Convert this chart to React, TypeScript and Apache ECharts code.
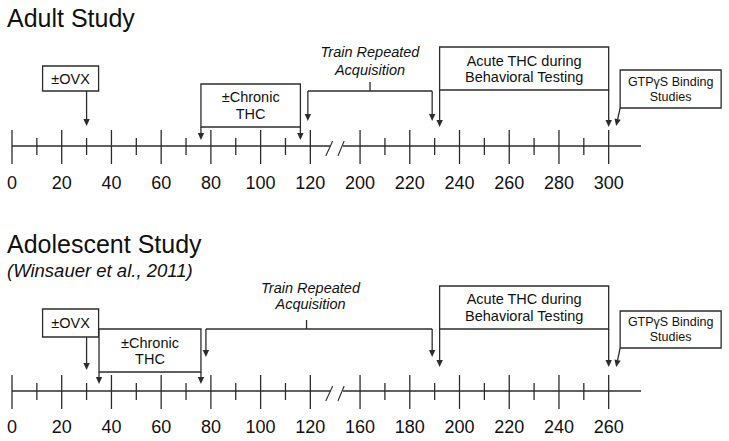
import { useEffect, useRef } from "react";
import * as echarts from "echarts";

// ---------- data ----------
const titles = ["Adult Study", "Adolescent Study"];
const subtitle = "(Winsauer et al., 2011)";

const adultTickDays = [0, 10, 20, 30, 40, 50, 60, 70, 80, 90, 100, 110, 120, 200, 210, 220, 230, 240, 250, 260, 270, 280, 290, 300];
const adultLabelDays = [0, 20, 40, 60, 80, 100, 120, 200, 220, 240, 260, 280, 300];
const adultBreakDays = [120, 200];

const adolescentTickDays = [0, 10, 20, 30, 40, 50, 60, 70, 80, 90, 100, 110, 120, 160, 170, 180, 190, 200, 210, 220, 230, 240, 250, 260];
const adolescentLabelDays = [0, 20, 40, 60, 80, 100, 120, 160, 180, 200, 220, 240, 260];
const adolescentBreakDays = [120, 160];

const eventLabels = ["±OVX", "±Chronic\nTHC", "Train Repeated\nAcquisition", "Acute THC during\nBehavioral Testing", "GTPγS Binding\nStudies"];
const eventKinds = ["ovx", "chronic", "train", "acute", "gtp"];
const adultEventStart = [30, 76, 119, 232, 303];
const adultEventEnd = [30, 116, 229, 300, 303];
const adolescentEventStart = [30, 35, 78, 192, 263];
const adolescentEventEnd = [30, 76, 189, 260, 263];

// ---------- style / layout ----------
const FONT = "'Liberation Sans', Arial, Helvetica, sans-serif";
const INK = "#111111";
const LINE = "#2c2c2c";
const LW = 1.3;
const GAP = 20; // display width of the axis break
const X_MAX = 253;

const adultLayout: any = {
  ovx: { top: 80, bottom: 55, left: -44, right: 12, tip: 20 },
  chronic: { top: 62, bottom: 19, tip: 6, lh: 17 },
  train: { bar: 55, tick: 64, textY: 85, lh: 18, tip: 25, textDx: 0, tickDx: 0 },
  acute: { top: 99, bottom: 56, tip: 19, lh: 16 },
  gtp: { top: 76, bottom: 38, gap: 4, width: 101, tip: 20, lh: 15 },
};
const adolescentLayout: any = {
  ovx: { top: 82, bottom: 54, left: -44, right: 12, tip: 21 },
  chronic: { top: 62, bottom: 19, tip: 7, lh: 16 },
  train: { bar: 62, tick: 71, textY: 95.5, lh: 16, tip: 34, textDx: -8.5, tickDx: -12.5 },
  acute: { top: 105, bottom: 62, tip: 24, lh: 17 },
  gtp: { top: 80, bottom: 43, gap: 4, width: 101, tip: 24, lh: 15 },
};

function toDisplay(day: number, brk: number[]) {
  return day <= brk[0] ? day : day - (brk[1] - brk[0]) + GAP;
}
function fromDisplay(v: number, brk: number[]) {
  return v <= brk[0] ? v : v + (brk[1] - brk[0]) - GAP;
}

function arrow(x1: number, y1: number, x2: number, y2: number) {
  const dx = x2 - x1, dy = y2 - y1;
  const len = Math.hypot(dx, dy) || 1;
  const ux = dx / len, uy = dy / len;
  const hl = 7, hw = 3.2;
  const bx = x2 - ux * hl, by = y2 - uy * hl;
  return [
    { type: "line", shape: { x1, y1, x2: bx, y2: by }, style: { stroke: LINE, lineWidth: LW } },
    {
      type: "polygon",
      shape: { points: [[x2, y2], [bx - uy * hw, by + ux * hw], [bx + uy * hw, by - ux * hw]] },
      style: { fill: LINE },
    },
  ];
}

function txt(text: string, x: number, y: number, size: number, lh: number, italic = false) {
  return {
    type: "text",
    style: {
      text, x, y,
      align: "center", verticalAlign: "middle",
      textAlign: "center", textVerticalAlign: "middle",
      fontSize: size, fontFamily: FONT, fontStyle: italic ? "italic" : "normal",
      lineHeight: lh, fill: INK,
    },
  };
}

function rect(x1: number, y1: number, x2: number, y2: number) {
  return {
    type: "rect",
    shape: { x: x1, y: y1, width: x2 - x1, height: y2 - y1 },
    style: { fill: "#ffffff", stroke: LINE, lineWidth: LW },
  };
}

function makeAnnotationRender(lay: any) {
  return (params: any, api: any) => {
    const i = params.dataIndex;
    const kind = eventKinds[i];
    const label = eventLabels[i];
    const xs = api.coord([api.value(0), 0])[0];
    const xe = api.coord([api.value(2), 0])[0];
    const Y = (off: number) => api.coord([0, off])[1];
    const L = lay[kind];
    let children: any[] = [];
    if (kind === "ovx") {
      children.push(rect(xs + L.left, Y(L.top), xs + L.right, Y(L.bottom)));
      children.push(txt(label, xs + (L.left + L.right) / 2, (Y(L.top) + Y(L.bottom)) / 2, 14.5, 17));
      children = children.concat(arrow(xs, Y(L.bottom), xs, Y(L.tip)));
    } else if (kind === "chronic" || kind === "acute") {
      children.push(rect(xs, Y(L.top), xe, Y(L.bottom)));
      children.push(txt(label, (xs + xe) / 2, (Y(L.top) + Y(L.bottom)) / 2, 14.5, L.lh));
      children = children.concat(arrow(xs, Y(L.bottom), xs, Y(L.tip)));
      children = children.concat(arrow(xe, Y(L.bottom), xe, Y(L.tip)));
    } else if (kind === "train") {
      const cx = (xs + xe) / 2;
      children.push({ type: "line", shape: { x1: xs, y1: Y(L.bar), x2: xe, y2: Y(L.bar) }, style: { stroke: LINE, lineWidth: LW } });
      children.push({ type: "line", shape: { x1: cx + L.tickDx, y1: Y(L.bar), x2: cx + L.tickDx, y2: Y(L.tick) }, style: { stroke: LINE, lineWidth: LW } });
      children.push(txt(label, cx + L.textDx, Y(L.textY), 14.5, L.lh, true));
      children = children.concat(arrow(xs, Y(L.bar), xs, Y(L.tip)));
      children = children.concat(arrow(xe, Y(L.bar), xe, Y(L.tip)));
    } else if (kind === "gtp") {
      const bl = xs + L.gap;
      children.push(rect(bl, Y(L.top), bl + L.width, Y(L.bottom)));
      children.push(txt(label, bl + L.width / 2, (Y(L.top) + Y(L.bottom)) / 2, 12.5, L.lh));
      children = children.concat(arrow(bl, Y(L.bottom), xs, Y(L.tip)));
    }
    return { type: "group", children };
  };
}

function tickRender(params: any, api: any) {
  const p = api.coord([api.value(0), 0]);
  const major = api.value(1) === 1;
  return {
    type: "line",
    shape: { x1: p[0], y1: p[1] - (major ? 16 : 8), x2: p[0], y2: p[1] + (major ? 18 : 9) },
    style: { stroke: LINE, lineWidth: LW },
  };
}

function makeTimelineRender(brk: number[]) {
  return (params: any, api: any) => {
    const b = brk[0];
    const y = api.coord([0, 0])[1];
    const X = (v: number) => api.coord([v, 0])[0];
    const seg = (a: number, c: number) => ({ type: "line", shape: { x1: X(a), y1: y, x2: X(c), y2: y }, style: { stroke: LINE, lineWidth: LW } });
    const slash = (lo: number, hi: number) => ({
      type: "line",
      shape: { x1: X(lo), y1: y + 10, x2: X(hi), y2: y - 5 },
      style: { stroke: LINE, lineWidth: 1.1 },
    });
    return {
      type: "group",
      children: [
        seg(0, b + 8.2),
        seg(b + 13.1, X_MAX),
        slash(b + 6.2, b + 9.0),
        slash(b + 11.1, b + 13.6),
      ],
    };
  };
}

export default function App() {
  const ref = useRef<HTMLDivElement>(null);
  useEffect(() => {
    if (!ref.current) return;
    const chart = echarts.init(ref.current, undefined, { renderer: "svg" });
    const brks = [adultBreakDays, adolescentBreakDays];
    const labels = [adultLabelDays, adolescentLabelDays];
    const ticks = [adultTickDays, adolescentTickDays];
    const starts = [adultEventStart, adolescentEventStart];
    const ends = [adultEventEnd, adolescentEventEnd];
    const layouts = [adultLayout, adolescentLayout];

    const series: any[] = [];
    [0, 1].forEach((g) => {
      series.push({
        type: "custom", xAxisIndex: g, yAxisIndex: g, silent: true, clip: false,
        renderItem: makeTimelineRender(brks[g]),
        data: [[0, 0]],
      });
      series.push({
        type: "custom", xAxisIndex: g, yAxisIndex: g, silent: true, clip: false,
        renderItem: tickRender,
        data: ticks[g].map((d) => [toDisplay(d, brks[g]), d % 20 === 0 ? 1 : 0]),
      });
      series.push({
        type: "custom", xAxisIndex: g, yAxisIndex: g, silent: true, clip: false,
        renderItem: makeAnnotationRender(layouts[g]),
        data: starts[g].map((s, i) => [toDisplay(s, brks[g]), 0, toDisplay(ends[g][i], brks[g])]),
      });
    });

    chart.setOption({
      animation: false,
      backgroundColor: "#ffffff",
      grid: [
        { left: 12, top: 26, width: 629, height: 120 },
        { left: 12, top: 271, width: 629, height: 120 },
      ],
      xAxis: [0, 1].map((g) => ({
        type: "value",
        gridIndex: g,
        min: 0,
        max: X_MAX,
        axisLine: { show: false },
        axisTick: { show: false },
        splitLine: { show: false },
        axisLabel: {
          customValues: labels[g].map((d) => toDisplay(d, brks[g])),
          formatter: (v: number) => String(Math.round(fromDisplay(v, brks[g]))),
          margin: g === 0 ? 28 : 27,
          fontSize: 18,
          fontFamily: FONT,
          color: INK,
          showMinLabel: true,
          showMaxLabel: true,
        },
      })),
      yAxis: [0, 1].map((g) => ({ type: "value", gridIndex: g, min: 0, max: 120, show: false })),
      graphic: [
        { type: "text", x: 7, y: 17.5, style: { text: titles[0], fontSize: 25, fontFamily: FONT, fill: INK, verticalAlign: "middle", textVerticalAlign: "middle" } },
        { type: "text", x: 7, y: 244, style: { text: titles[1], fontSize: 25, fontFamily: FONT, fill: INK, verticalAlign: "middle", textVerticalAlign: "middle" } },
        { type: "text", x: 7, y: 270.5, style: { text: subtitle, fontSize: 18.5, fontStyle: "italic", fontFamily: FONT, fill: INK, verticalAlign: "middle", textVerticalAlign: "middle" } },
      ],
      series,
    });
    return () => chart.dispose();
  }, []);
  return <div ref={ref} style={{ position: "fixed", left: 0, top: 0, width: 729, height: 441, background: "#fff" }} />;
}
